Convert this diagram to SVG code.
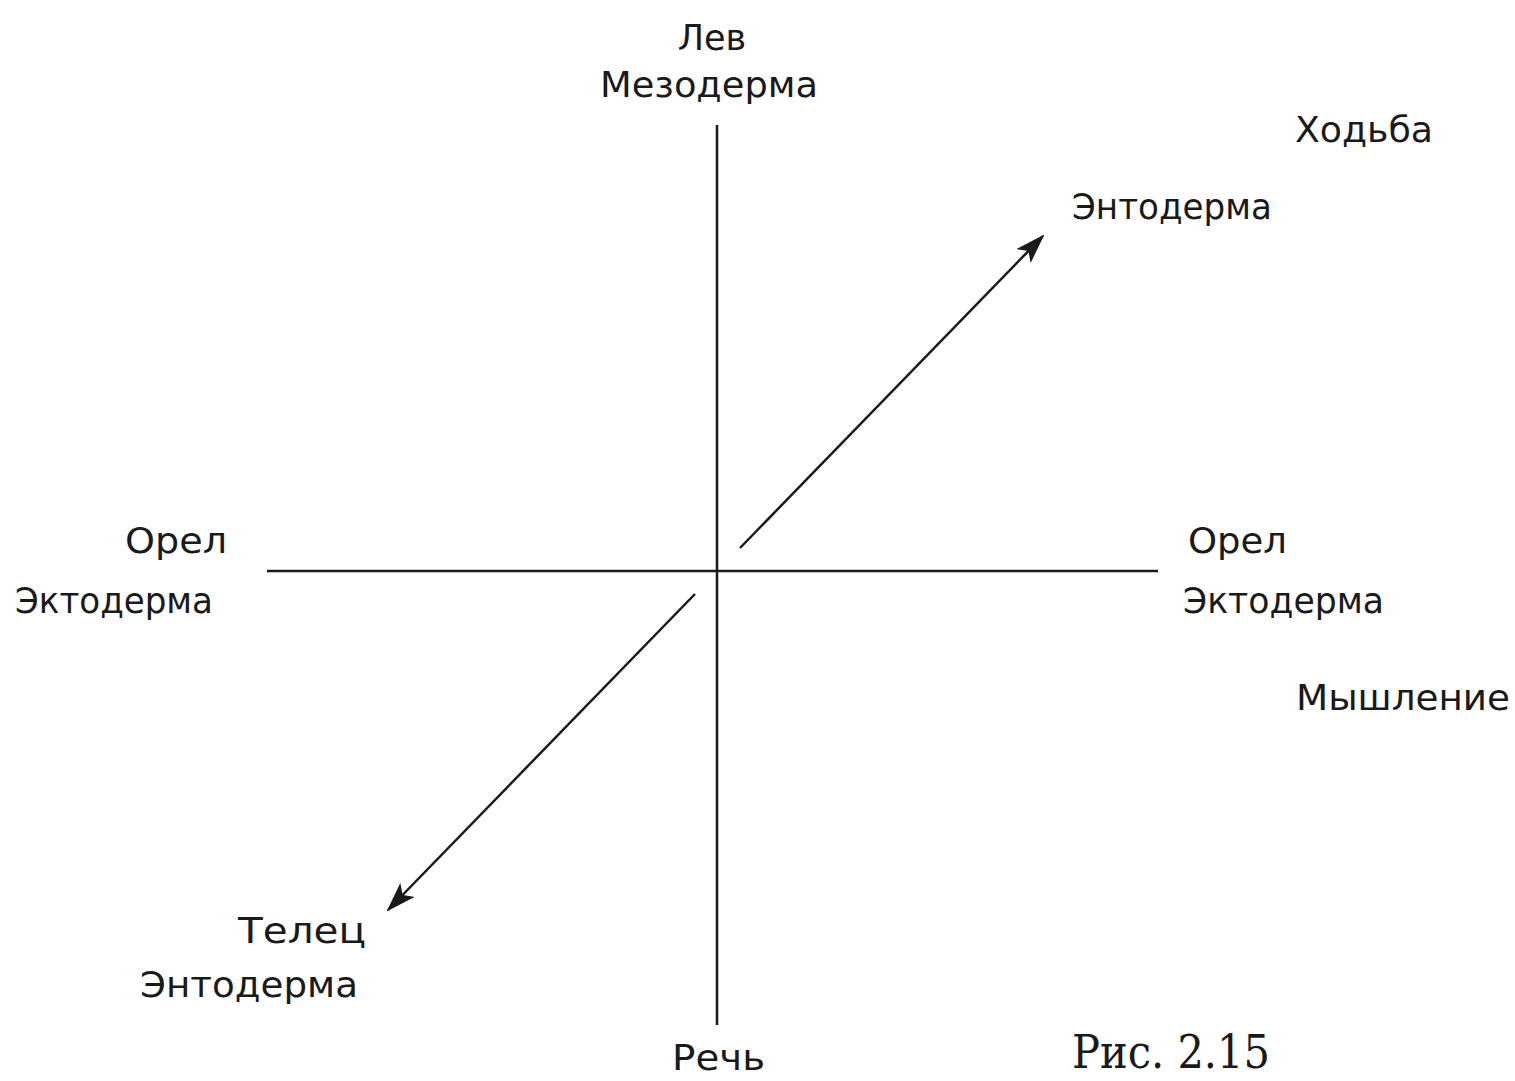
<svg xmlns="http://www.w3.org/2000/svg" width="1515" height="1081" viewBox="0 0 1515 1081">
<style>
.t{font-family:"DejaVu Sans","Liberation Sans",sans-serif;font-size:35px;fill:#1a1a1a}
.c{font-family:"DejaVu Serif","Liberation Serif",serif;font-size:46px;fill:#1a1a1a}
.ax{stroke:#1a1a1a;stroke-width:2.5;fill:none}
</style>
<defs>
<marker id="ah" viewBox="0 0 30 20" refX="28" refY="10" markerWidth="30" markerHeight="20" markerUnits="userSpaceOnUse" orient="auto">
<path d="M0,0 L30,10 L0,20 L7,10 Z" fill="#1a1a1a"/>
</marker>
</defs>
<rect width="1515" height="1081" fill="#fff"/>
<g id="connectors">
<line class="ax" x1="717" y1="125" x2="717" y2="1025"/>
<line class="ax" x1="267" y1="571" x2="1158" y2="571"/>
<line class="ax" x1="740" y1="548" x2="1043" y2="236" marker-end="url(#ah)"/>
<line class="ax" x1="695" y1="594" x2="388" y2="910" marker-end="url(#ah)"/>
</g>
<g id="top"><text class="t" x="712" y="50" text-anchor="middle">Лев</text><text class="t" x="600" y="97" textLength="218" lengthAdjust="spacingAndGlyphs">Мезодерма</text></g>
<g id="walk"><text class="t" x="1295" y="142" textLength="138" lengthAdjust="spacingAndGlyphs">Ходьба</text></g>
<g id="ne"><text class="t" x="1072" y="219" textLength="200" lengthAdjust="spacingAndGlyphs">Энтодерма</text></g>
<g id="left"><text class="t" x="125" y="553" textLength="102" lengthAdjust="spacingAndGlyphs">Орел</text><text class="t" x="15" y="613" textLength="198" lengthAdjust="spacingAndGlyphs">Эктодерма</text></g>
<g id="right"><text class="t" x="1188" y="553" textLength="99" lengthAdjust="spacingAndGlyphs">Орел</text><text class="t" x="1183" y="613" textLength="201" lengthAdjust="spacingAndGlyphs">Эктодерма</text></g>
<g id="think"><text class="t" x="1296" y="710" textLength="214" lengthAdjust="spacingAndGlyphs">Мышление</text></g>
<g id="sw"><text class="t" x="238" y="943" textLength="128" lengthAdjust="spacingAndGlyphs">Телец</text><text class="t" x="140" y="997" textLength="218" lengthAdjust="spacingAndGlyphs">Энтодерма</text></g>
<g id="bottom"><text class="t" x="672" y="1070" textLength="93" lengthAdjust="spacingAndGlyphs">Речь</text></g>
<g id="caption"><text class="c" x="1072" y="1068" textLength="198" lengthAdjust="spacingAndGlyphs">Рис. 2.15</text></g>
</svg>
